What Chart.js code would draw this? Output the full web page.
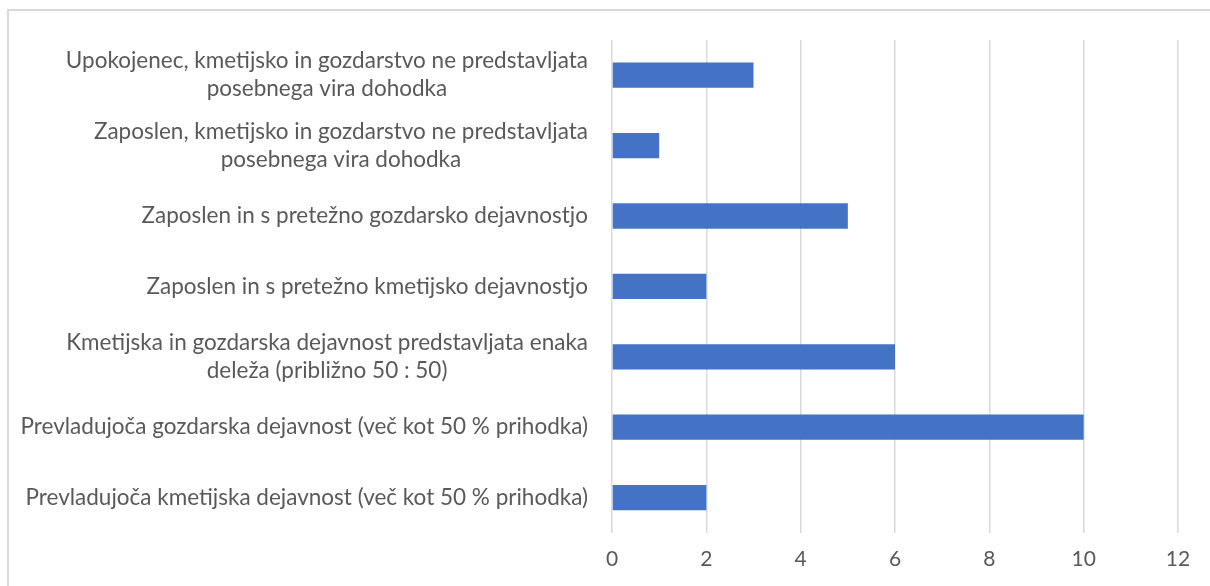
<!DOCTYPE html>
<html>
<head>
<meta charset="utf-8">
<script src="https://cdn.jsdelivr.net/npm/chart.js@4/dist/chart.umd.min.js"></script>
<style>
  html, body { margin: 0; padding: 0; background: #fff; overflow: hidden; }
  #frame { position: absolute; left: 7px; top: 9px; width: 1300px; height: 700px; border: 2px solid #d9d9d9; box-sizing: border-box; }
  #wrap { position: absolute; left: 0; top: 0; width: 1210px; height: 586px; }
</style>
</head>
<body>
<div id="frame"></div>
<div id="wrap"><canvas id="chart"></canvas></div>
<script>
const categories = [
    ["Upokojenec, kmetijsko in gozdarstvo ne predstavljata", "posebnega vira dohodka"],
    ["Zaposlen, kmetijsko in gozdarstvo ne predstavljata", "posebnega vira dohodka"],
    ["Zaposlen in s pretežno gozdarsko dejavnostjo"],
    ["Zaposlen in s pretežno kmetijsko dejavnostjo"],
    ["Kmetijska in gozdarska dejavnost predstavljata enaka", "deleža (približno 50 : 50)"],
    ["Prevladujoča gozdarska dejavnost (več kot 50 % prihodka)"],
    ["Prevladujoča kmetijska dejavnost (več kot 50 % prihodka)"]
];
const counts = [3, 1, 5, 2, 6, 10, 2];
const xTicks = [0, 2, 4, 6, 8, 10, 12];

const FONT = "Lato, 'Open Sans', sans-serif";
const TEXT = "#595959";

// Excel-style category labels: block right aligned, lines centred within it
const categoryLabels = {
    id: "categoryLabels",
    afterDraw(chart) {
        const ctx = chart.ctx;
        const y = chart.scales.y;
        const right = chart.chartArea.left - 24;
        ctx.save();
        ctx.font = `22.5px ${FONT}`;
        ctx.fillStyle = TEXT;
        ctx.textAlign = "center";
        ctx.textBaseline = "middle";
        categories.forEach((lines, i) => {
            const widest = Math.max(...lines.map(line => ctx.measureText(line).width));
            const cx = right - widest / 2;
            const cy = y.getPixelForValue(i);
            const lh = 28;
            lines.forEach((line, j) => {
                ctx.fillText(line, cx, cy + (j - (lines.length - 1) / 2) * lh);
            });
        });
        ctx.restore();
    }
};

new Chart(document.getElementById("chart"), {
    type: "bar",
    data: {
        labels: categories.map(lines => lines.join(" ")),
        datasets: [{ data: counts, backgroundColor: "#4472C4", barPercentage: 0.36, categoryPercentage: 1 }]
    },
    options: {
        indexAxis: "y",
        responsive: true,
        maintainAspectRatio: false,
        animation: false,
        layout: { padding: { top: 40, right: 32, bottom: 0, left: 0 } },
        plugins: { legend: { display: false }, tooltip: { enabled: false } },
        scales: {
            x: {
                min: 0,
                max: 12,
                afterBuildTicks: scale => { scale.ticks = xTicks.map(value => ({ value })); },
                grid: { color: "#d9d9d9", lineWidth: 1.5, drawTicks: false },
                border: { display: false },
                ticks: { color: TEXT, font: { family: FONT, size: 21 }, padding: 14 }
            },
            y: {
                grid: { display: false },
                border: { display: false },
                ticks: { display: false },
                afterFit: scale => { scale.width = 612; }
            }
        }
    },
    plugins: [categoryLabels]
});
</script>
</body>
</html>
